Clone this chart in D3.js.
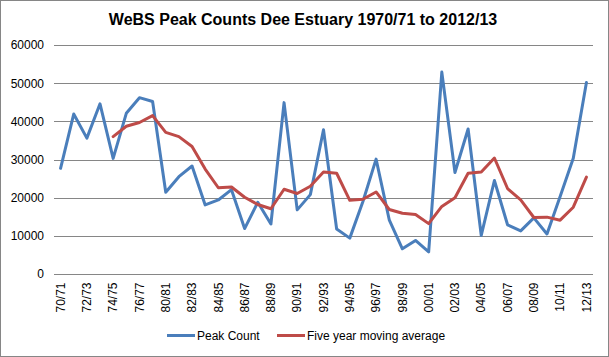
<!DOCTYPE html>
<html>
<head>
<meta charset="utf-8">
<script src="https://cdn.jsdelivr.net/npm/d3@7"></script>
<style>
  html, body { margin: 0; padding: 0; background: #fff; }
  svg { display: block; font-family: "Liberation Sans", Arial, sans-serif; }
</style>
</head>
<body>
<svg id="chart" width="609" height="357"></svg>
<script>
const seasons = ["70/71","71/72","72/73","73/74","74/75","75/76","76/77","77/78",
  "80/81","81/82","82/83","83/84","84/85","85/86","86/87","87/88","88/89","89/90",
  "90/91","91/92","92/93","93/94","94/95","95/96","96/97","97/98","98/99","99/00",
  "00/01","01/02","02/03","03/04","04/05","05/06","06/07","07/08","08/09","09/10",
  "10/11","11/12","12/13"];
const peakCount = [27700,41900,35600,44600,30300,42100,46200,45200,21400,25500,
  28300,18100,19400,22100,11900,18800,13100,44900,16800,20800,37800,11800,9400,
  19000,30100,14200,6600,8800,5800,52900,26600,38000,10100,24500,12900,11300,
  14700,10500,20300,30300,50200];
const movingAvg = [null,null,null,null,36000,38700,39700,41500,37100,36000,33400,
  27500,22600,22800,20100,18200,17100,22200,21100,23000,26700,26400,19300,19600,
  21500,16900,15900,15600,13200,17700,20000,26400,26700,30400,22400,19400,14800,
  14900,14100,17500,25400];
const yTicks = [0,10000,20000,30000,40000,50000,60000];
const xTickLabels = seasons.filter((d, i) => i % 2 === 0);
const seriesNames = ["Peak Count", "Five year moving average"];
const colors = ["#4A7EBB", "#BE4B48"];

const svg = d3.select("#chart");
const W = 609, H = 357;
const plot = { left: 54, right: 593, top: 45, bottom: 274 };

// outer frame
svg.append("rect").attr("x", 0.5).attr("y", 0.5).attr("width", W - 1).attr("height", H - 1)
  .attr("fill", "#fff").attr("stroke", "#868686").attr("stroke-width", 1);

// title
svg.append("text").attr("x", 303).attr("y", 25).attr("text-anchor", "middle")
  .attr("font-size", 16).attr("font-weight", "bold").attr("fill", "#000")
  .text("WeBS Peak Counts Dee Estuary 1970/71 to 2012/13");

const x = d3.scaleBand().domain(seasons).range([plot.left, plot.right]).padding(0);
const y = d3.scaleLinear().domain([0, 60000]).range([plot.bottom, plot.top]);
const cx = d => x(d) + x.bandwidth() / 2;

// gridlines
svg.append("g").selectAll("line").data(yTicks.filter(t => t > 0)).join("line")
  .attr("x1", plot.left).attr("x2", plot.right)
  .attr("y1", d => Math.round(y(d)) + 0.5).attr("y2", d => Math.round(y(d)) + 0.5)
  .attr("stroke", "#868686").attr("stroke-width", 1);

// y axis labels
const yAxis = svg.append("g").attr("transform", `translate(${plot.left - 10},0)`)
  .call(d3.axisLeft(y).tickValues(yTicks).tickSize(0).tickPadding(0).tickFormat(d3.format("d")));
yAxis.select(".domain").remove();
yAxis.selectAll("text").attr("font-size", 12).attr("fill", "#000")
  .attr("font-family", "'Liberation Sans', Arial, sans-serif");

// x axis
const xAxis = svg.append("g").attr("transform", `translate(0,${Math.round(plot.bottom) + 0.5})`)
  .call(d3.axisBottom(x).tickValues(xTickLabels).tickSize(0).tickPadding(0));
xAxis.select(".domain").attr("stroke", "#868686").attr("d", `M${plot.left},0H${plot.right}`);
xAxis.selectAll("text")
  .attr("font-size", 12).attr("fill", "#000")
  .attr("font-family", "'Liberation Sans', Arial, sans-serif")
  .attr("transform", "rotate(-90)")
  .attr("text-anchor", "end")
  .attr("x", -8).attr("y", 0).attr("dy", "0.35em");

// lines
const line = d3.line().defined(d => d.v !== null).x(d => cx(d.s)).y(d => y(d.v));
svg.append("path")
  .datum(seasons.map((s, i) => ({ s, v: peakCount[i] })))
  .attr("d", line).attr("fill", "none").attr("stroke", colors[0])
  .attr("stroke-width", 3).attr("stroke-linejoin", "round").attr("stroke-linecap", "round");
svg.append("path")
  .datum(seasons.map((s, i) => ({ s, v: movingAvg[i] })))
  .attr("d", line).attr("fill", "none").attr("stroke", colors[1])
  .attr("stroke-width", 3).attr("stroke-linejoin", "round").attr("stroke-linecap", "round");

// legend
const legendItems = [{ x: 167, name: seriesNames[0], color: colors[0] },
                     { x: 277, name: seriesNames[1], color: colors[1] }];
const lg = svg.append("g").attr("transform", "translate(0,335.5)");
legendItems.forEach(it => {
  lg.append("line").attr("x1", it.x).attr("x2", it.x + 28).attr("y1", 0).attr("y2", 0)
    .attr("stroke", it.color).attr("stroke-width", 3);
  lg.append("text").attr("x", it.x + 30).attr("y", 0).attr("dy", "0.35em")
    .attr("font-size", 12).attr("fill", "#000").text(it.name);
});
</script>
</body>
</html>
